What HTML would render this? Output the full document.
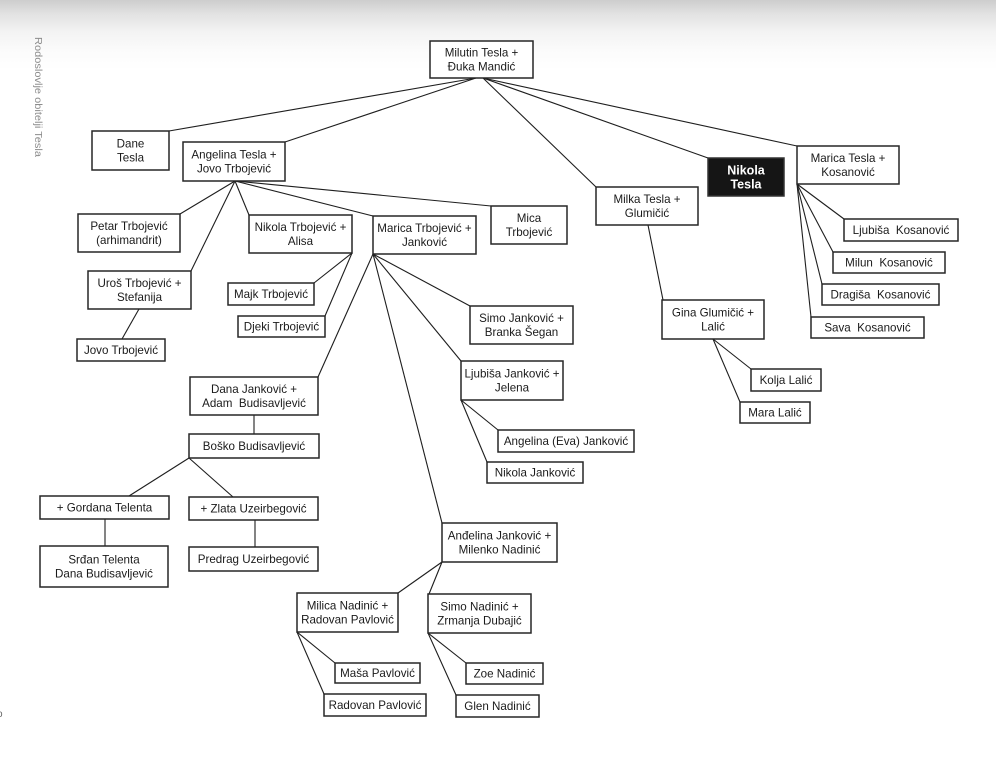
<!DOCTYPE html>
<html>
<head>
<meta charset="utf-8">
<style>
  html, body { margin: 0; padding: 0; }
  body {
    width: 996px; height: 768px; overflow: hidden;
    background: linear-gradient(to bottom, #cdcdcd 0px, #e2e2e2 14px, #f3f3f3 32px, #fbfbfb 50px, #ffffff 70px);
  }
  svg { display: block; }
  text { font-family: "Liberation Sans", "DejaVu Sans", sans-serif; font-size: 11.6px; fill: #1a1a1a; }
  .bx { fill: #ffffff; stroke: #262626; stroke-width: 1.5; }
  .ln { stroke: #1e1e1e; stroke-width: 1.1; fill: none; }
</style>
</head>
<body>
<svg width="996" height="768" viewBox="0 0 996 768" xmlns="http://www.w3.org/2000/svg">
  <!-- side caption -->
  <text transform="translate(35,97) rotate(90)" text-anchor="middle" textLength="120" lengthAdjust="spacingAndGlyphs" style="font-size:10px;fill:#8c8c8c;">Rodoslovlje obitelji Tesla</text>
  <text x="-3" y="717" style="font-size:10px;fill:#666;">o</text>

  <!-- connectors -->
  <g class="ln">
    <line x1="476" y1="78" x2="169" y2="131"/>
    <line x1="476" y1="78" x2="285" y2="142"/>
    <line x1="483" y1="78" x2="596" y2="187"/>
    <line x1="483" y1="78" x2="708" y2="158"/>
    <line x1="483" y1="78" x2="797" y2="146"/>

    <line x1="235" y1="181" x2="180" y2="214"/>
    <line x1="235" y1="181" x2="191" y2="271"/>
    <line x1="235" y1="181" x2="249" y2="215"/>
    <line x1="235" y1="181" x2="373" y2="216"/>
    <line x1="235" y1="181" x2="491" y2="206"/>

    <line x1="139" y1="309" x2="122" y2="339"/>

    <line x1="352" y1="253" x2="314" y2="283"/>
    <line x1="352" y1="253" x2="325" y2="316"/>

    <line x1="373" y1="254" x2="318" y2="377"/>
    <line x1="373" y1="254" x2="470" y2="306"/>
    <line x1="373" y1="254" x2="461" y2="361"/>
    <line x1="373" y1="254" x2="442" y2="523"/>

    <line x1="254" y1="415" x2="254" y2="434"/>
    <line x1="189" y1="458" x2="129" y2="496"/>
    <line x1="189" y1="458" x2="233" y2="497"/>
    <line x1="105" y1="519" x2="105" y2="546"/>
    <line x1="255" y1="520" x2="255" y2="547"/>

    <line x1="461" y1="400" x2="498" y2="430"/>
    <line x1="461" y1="400" x2="487" y2="462"/>

    <line x1="648" y1="225" x2="663" y2="300"/>
    <line x1="713" y1="339" x2="751" y2="369"/>
    <line x1="713" y1="339" x2="740" y2="402"/>

    <line x1="797" y1="184" x2="844" y2="219"/>
    <line x1="797" y1="184" x2="833" y2="252"/>
    <line x1="797" y1="184" x2="822" y2="284"/>
    <line x1="797" y1="184" x2="811" y2="317"/>

    <line x1="442" y1="562" x2="398" y2="593"/>
    <line x1="442" y1="562" x2="429" y2="594"/>
    <line x1="297" y1="632" x2="335" y2="663"/>
    <line x1="297" y1="632" x2="324" y2="694"/>
    <line x1="428" y1="633" x2="466" y2="663"/>
    <line x1="428" y1="633" x2="456" y2="695"/>
  </g>

  <!-- boxes -->
  <g>
    <rect class="bx" x="430" y="41" width="103" height="37"/>
    <text x="481.5" y="56.5" text-anchor="middle">Milutin Tesla +</text>
    <text x="481.5" y="70.5" text-anchor="middle">Đuka Mandić</text>

    <rect class="bx" x="92" y="131" width="77" height="39"/>
    <text x="130.5" y="147.5" text-anchor="middle">Dane</text>
    <text x="130.5" y="161.5" text-anchor="middle">Tesla</text>

    <rect class="bx" x="183" y="142" width="102" height="39"/>
    <text x="234" y="158.5" text-anchor="middle">Angelina Tesla +</text>
    <text x="234" y="172.5" text-anchor="middle">Jovo Trbojević</text>

    <rect x="708" y="158" width="76" height="38" fill="#151515" stroke="#333" stroke-width="1.5"/>
    <text x="746" y="174.5" text-anchor="middle" style="fill:#fff;font-weight:bold;font-size:12.5px;">Nikola</text>
    <text x="746" y="188.5" text-anchor="middle" style="fill:#fff;font-weight:bold;font-size:12.5px;">Tesla</text>

    <rect class="bx" x="797" y="146" width="102" height="38"/>
    <text x="848" y="162" text-anchor="middle">Marica Tesla +</text>
    <text x="848" y="176" text-anchor="middle">Kosanović</text>

    <rect class="bx" x="596" y="187" width="102" height="38"/>
    <text x="647" y="203" text-anchor="middle">Milka Tesla +</text>
    <text x="647" y="217" text-anchor="middle">Glumičić</text>

    <rect class="bx" x="78" y="214" width="102" height="38"/>
    <text x="129" y="230" text-anchor="middle">Petar Trbojević</text>
    <text x="129" y="244" text-anchor="middle">(arhimandrit)</text>

    <rect class="bx" x="249" y="215" width="103" height="38"/>
    <text x="300.5" y="231" text-anchor="middle">Nikola Trbojević +</text>
    <text x="300.5" y="245" text-anchor="middle">Alisa</text>

    <rect class="bx" x="373" y="216" width="103" height="38"/>
    <text x="424.5" y="232" text-anchor="middle">Marica Trbojević +</text>
    <text x="424.5" y="246" text-anchor="middle">Janković</text>

    <rect class="bx" x="491" y="206" width="76" height="38"/>
    <text x="529" y="222" text-anchor="middle">Mica</text>
    <text x="529" y="236" text-anchor="middle">Trbojević</text>

    <rect class="bx" x="88" y="271" width="103" height="38"/>
    <text x="139.5" y="287" text-anchor="middle">Uroš Trbojević +</text>
    <text x="139.5" y="301" text-anchor="middle">Stefanija</text>

    <rect class="bx" x="77" y="339" width="88" height="22"/>
    <text x="121" y="354" text-anchor="middle">Jovo Trbojević</text>

    <rect class="bx" x="228" y="283" width="86" height="22"/>
    <text x="271" y="298" text-anchor="middle">Majk Trbojević</text>

    <rect class="bx" x="238" y="316" width="87" height="21"/>
    <text x="281.5" y="330.5" text-anchor="middle">Djeki Trbojević</text>

    <rect class="bx" x="470" y="306" width="103" height="38"/>
    <text x="521.5" y="322" text-anchor="middle">Simo Janković +</text>
    <text x="521.5" y="336" text-anchor="middle">Branka Šegan</text>

    <rect class="bx" x="461" y="361" width="102" height="39"/>
    <text x="512" y="377.5" text-anchor="middle">Ljubiša Janković +</text>
    <text x="512" y="391.5" text-anchor="middle">Jelena</text>

    <rect class="bx" x="190" y="377" width="128" height="38"/>
    <text x="254" y="393" text-anchor="middle">Dana Janković +</text>
    <text x="254" y="407" text-anchor="middle" xml:space="preserve">Adam  Budisavljević</text>

    <rect class="bx" x="189" y="434" width="130" height="24"/>
    <text x="254" y="450" text-anchor="middle">Boško Budisavljević</text>

    <rect class="bx" x="498" y="430" width="136" height="22"/>
    <text x="566" y="445" text-anchor="middle">Angelina (Eva) Janković</text>

    <rect class="bx" x="487" y="462" width="96" height="21"/>
    <text x="535" y="476.5" text-anchor="middle">Nikola Janković</text>

    <rect class="bx" x="662" y="300" width="102" height="39"/>
    <text x="713" y="316.5" text-anchor="middle">Gina Glumičić +</text>
    <text x="713" y="330.5" text-anchor="middle">Lalić</text>

    <rect class="bx" x="751" y="369" width="70" height="22"/>
    <text x="786" y="384" text-anchor="middle">Kolja Lalić</text>

    <rect class="bx" x="740" y="402" width="70" height="21"/>
    <text x="775" y="416.5" text-anchor="middle">Mara Lalić</text>

    <rect class="bx" x="844" y="219" width="114" height="22"/>
    <text x="901" y="234" text-anchor="middle" xml:space="preserve">Ljubiša  Kosanović</text>

    <rect class="bx" x="833" y="252" width="112" height="21"/>
    <text x="889" y="266.5" text-anchor="middle" xml:space="preserve">Milun  Kosanović</text>

    <rect class="bx" x="822" y="284" width="117" height="21"/>
    <text x="880.5" y="298.5" text-anchor="middle" xml:space="preserve">Dragiša  Kosanović</text>

    <rect class="bx" x="811" y="317" width="113" height="21"/>
    <text x="867.5" y="331.5" text-anchor="middle" xml:space="preserve">Sava  Kosanović</text>

    <rect class="bx" x="40" y="496" width="129" height="23"/>
    <text x="104.5" y="511.5" text-anchor="middle">+ Gordana Telenta</text>

    <rect class="bx" x="189" y="497" width="129" height="23"/>
    <text x="253.5" y="512.5" text-anchor="middle">+ Zlata Uzeirbegović</text>

    <rect class="bx" x="40" y="546" width="128" height="41"/>
    <text x="104" y="563.5" text-anchor="middle">Srđan Telenta</text>
    <text x="104" y="577.5" text-anchor="middle">Dana Budisavljević</text>

    <rect class="bx" x="189" y="547" width="129" height="24"/>
    <text x="253.5" y="563" text-anchor="middle">Predrag Uzeirbegović</text>

    <rect class="bx" x="442" y="523" width="115" height="39"/>
    <text x="499.5" y="539.5" text-anchor="middle">Anđelina Janković +</text>
    <text x="499.5" y="553.5" text-anchor="middle">Milenko Nadinić</text>

    <rect class="bx" x="297" y="593" width="101" height="39"/>
    <text x="347.5" y="609.5" text-anchor="middle">Milica Nadinić +</text>
    <text x="347.5" y="623.5" text-anchor="middle">Radovan Pavlović</text>

    <rect class="bx" x="428" y="594" width="103" height="39"/>
    <text x="479.5" y="610.5" text-anchor="middle">Simo Nadinić +</text>
    <text x="479.5" y="624.5" text-anchor="middle">Zrmanja Dubajić</text>

    <rect class="bx" x="335" y="663" width="85" height="20"/>
    <text x="377.5" y="677" text-anchor="middle">Maša Pavlović</text>

    <rect class="bx" x="324" y="694" width="102" height="22"/>
    <text x="375" y="709" text-anchor="middle">Radovan Pavlović</text>

    <rect class="bx" x="466" y="663" width="77" height="21"/>
    <text x="504.5" y="677.5" text-anchor="middle">Zoe Nadinić</text>

    <rect class="bx" x="456" y="695" width="83" height="22"/>
    <text x="497.5" y="710" text-anchor="middle">Glen Nadinić</text>
  </g>
</svg>
</body>
</html>
